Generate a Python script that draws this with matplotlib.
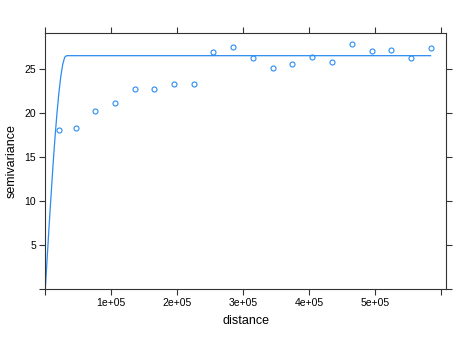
import numpy as np
import matplotlib.pyplot as plt

plt.rcParams['font.family'] = ['Liberation Sans', 'DejaVu Sans']

# empirical semivariogram
dist = [21200, 47000, 75800, 105600, 135900, 165200, 194400, 225300, 255000, 284800,
        315200, 344900, 374200, 404500, 434300, 465200, 494900, 524200, 554500, 584300]
gamma = [18.03, 18.26, 20.18, 21.16, 22.70, 22.74, 23.31, 23.27, 26.92, 27.45,
         26.24, 25.08, 25.56, 26.32, 25.75, 27.82, 27.07, 27.11, 26.24, 27.41]

# fitted spherical model
nugget = 0.0
psill = 26.5
rng = 31500.0

xticks = [0, 100000, 200000, 300000, 400000, 500000, 600000]
xticklabels = ['', '1e+05', '2e+05', '3e+05', '4e+05', '5e+05', '']
yticks = [0, 5, 10, 15, 20, 25]
yticklabels = ['', '5', '10', '15', '20', '25']


def sph(h):
    h = np.asarray(h, dtype=float)
    r = np.minimum(h / rng, 1.0)
    return nugget + psill * (1.5 * r - 0.5 * r ** 3)


blue = '#2a8cf0'
axcol = '#333333'

fig = plt.figure(figsize=(4.74, 3.38), dpi=100)
ax = fig.add_axes([0.0956, 0.145, 0.8454, 0.758])

maxd = max(dist)
h = np.linspace(maxd * 1e-6, maxd, 200)
ax.plot(h, sph(h), color=blue, lw=0.9)
ax.plot(dist, gamma, 'o', mfc='none', mec=blue, ms=3.6, mew=0.8)

ax.set_xlim(0, maxd * 1.04)
ax.set_ylim(0, max(gamma) * 1.046)

ax.set_xticks(xticks)
ax.set_xticklabels(xticklabels)
ax.set_yticks(yticks)
ax.set_yticklabels(yticklabels)
ax.tick_params(direction='out', length=4.3, width=0.8, color=axcol,
               labelsize=7.5, top=True, right=True, pad=2.5)

for s in ax.spines.values():
    s.set_color(axcol)
    s.set_linewidth(0.8)

ax.set_xlabel('distance', fontsize=9, labelpad=5)
ax.set_ylabel('semivariance', fontsize=9, labelpad=4.5)

fig.savefig('out.png', dpi=100)
